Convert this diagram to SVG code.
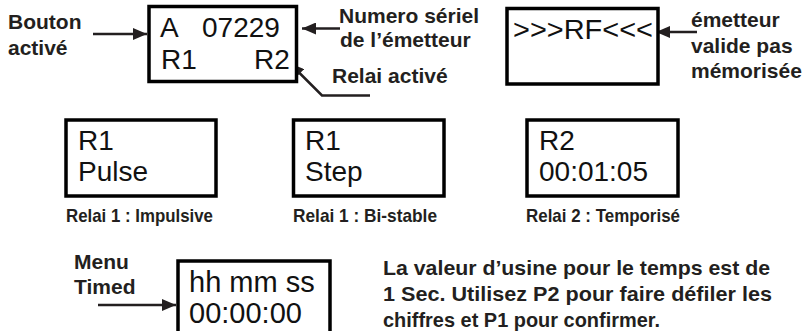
<svg xmlns="http://www.w3.org/2000/svg" width="804" height="331" viewBox="0 0 804 331">
<style>
.box{fill:#fff;stroke:#000;stroke-width:3.5}
.lcd{font-family:"Liberation Sans",Arial,sans-serif;font-size:28px;fill:#111}
.lbl{font-family:"Liberation Sans",Arial,sans-serif;font-size:21px;font-weight:bold;fill:#231f20}
.cap{font-family:"Liberation Sans",Arial,sans-serif;font-size:18.5px;font-weight:bold;fill:#231f20}
.note{font-family:"Liberation Sans",Arial,sans-serif;font-size:21px;font-weight:bold;fill:#231f20}
.con{fill:none;stroke:#231f20;stroke-width:2.5;marker-end:url(#ah)}
</style>
<defs>
<marker id="ah" markerUnits="userSpaceOnUse" markerWidth="16" markerHeight="12" refX="14" refY="6" orient="auto">
<path d="M0,0 L14,6 L0,12 Z" fill="#231f20"/>
</marker>
</defs>
<rect width="804" height="331" fill="#fff"/>
<g id="connectors">
<path class="con" d="M93,34 H147"/>
<path class="con" d="M340,28.5 H302"/>
<path class="con" d="M370,95.5 H322 L290,63.5"/>
<path class="con" d="M697,32 H656"/>
<path class="con" d="M98,305 H176"/>
</g>
<g id="label-bouton">
<text class="lbl" x="8" y="29">Bouton</text>
<text class="lbl" x="8" y="55">activé</text>
</g>
<g id="display-main">
<rect class="box" x="149" y="6.5" width="147.5" height="75"/>
<text class="lcd" x="160" y="37">A</text>
<text class="lcd" x="202" y="37">07229</text>
<text class="lcd" x="161" y="69">R1</text>
<text class="lcd" x="254" y="69">R2</text>
</g>
<g id="label-numero">
<text class="lbl" x="339" y="23">Numero sériel</text>
<text class="lbl" x="340" y="47">de l’émetteur</text>
</g>
<g id="label-relai-active">
<text class="lbl" x="332" y="83">Relai activé</text>
</g>
<g id="display-rf">
<rect class="box" x="507" y="8.5" width="151" height="75.5"/>
<text class="lcd" x="513" y="38.5" textLength="140" lengthAdjust="spacingAndGlyphs">&gt;&gt;&gt;RF&lt;&lt;&lt;</text>
</g>
<g id="label-emetteur">
<text class="lbl" x="691" y="27">émetteur</text>
<text class="lbl" x="691" y="53">valide pas</text>
<text class="lbl" x="691" y="78">mémorisée</text>
</g>
<g id="display-pulse">
<rect class="box" x="66" y="120" width="150" height="76"/>
<text class="lcd" x="78" y="150">R1</text>
<text class="lcd" x="78" y="181">Pulse</text>
<text class="cap" x="66" y="222" textLength="147" lengthAdjust="spacingAndGlyphs">Relai 1 : Impulsive</text>
</g>
<g id="display-step">
<rect class="box" x="293.5" y="120" width="150.5" height="76"/>
<text class="lcd" x="305" y="150">R1</text>
<text class="lcd" x="305" y="181">Step</text>
<text class="cap" x="293" y="222" textLength="144" lengthAdjust="spacingAndGlyphs">Relai 1 : Bi-stable</text>
</g>
<g id="display-timed">
<rect class="box" x="527" y="120" width="151" height="76"/>
<text class="lcd" x="539" y="150">R2</text>
<text class="lcd" x="539" y="181">00:01:05</text>
<text class="cap" x="526" y="222" textLength="154" lengthAdjust="spacingAndGlyphs">Relai 2 : Temporisé</text>
</g>
<g id="label-menu">
<text class="lbl" x="74" y="269">Menu</text>
<text class="lbl" x="74" y="294">Timed</text>
</g>
<g id="display-setup">
<rect class="box" x="178" y="261" width="152" height="90"/>
<text class="lcd" x="189" y="292" style="font-size:29px">hh mm ss</text>
<text class="lcd" x="189" y="323" style="font-size:29px">00:00:00</text>
</g>
<g id="note">
<text class="note" x="383" y="275" textLength="387" lengthAdjust="spacingAndGlyphs">La valeur d’usine pour le temps est de</text>
<text class="note" x="383" y="301" textLength="389" lengthAdjust="spacingAndGlyphs">1 Sec. Utilisez P2 pour faire défiler les</text>
<text class="note" x="383" y="327" textLength="277" lengthAdjust="spacingAndGlyphs">chiffres et P1 pour confirmer.</text>
</g>
</svg>
